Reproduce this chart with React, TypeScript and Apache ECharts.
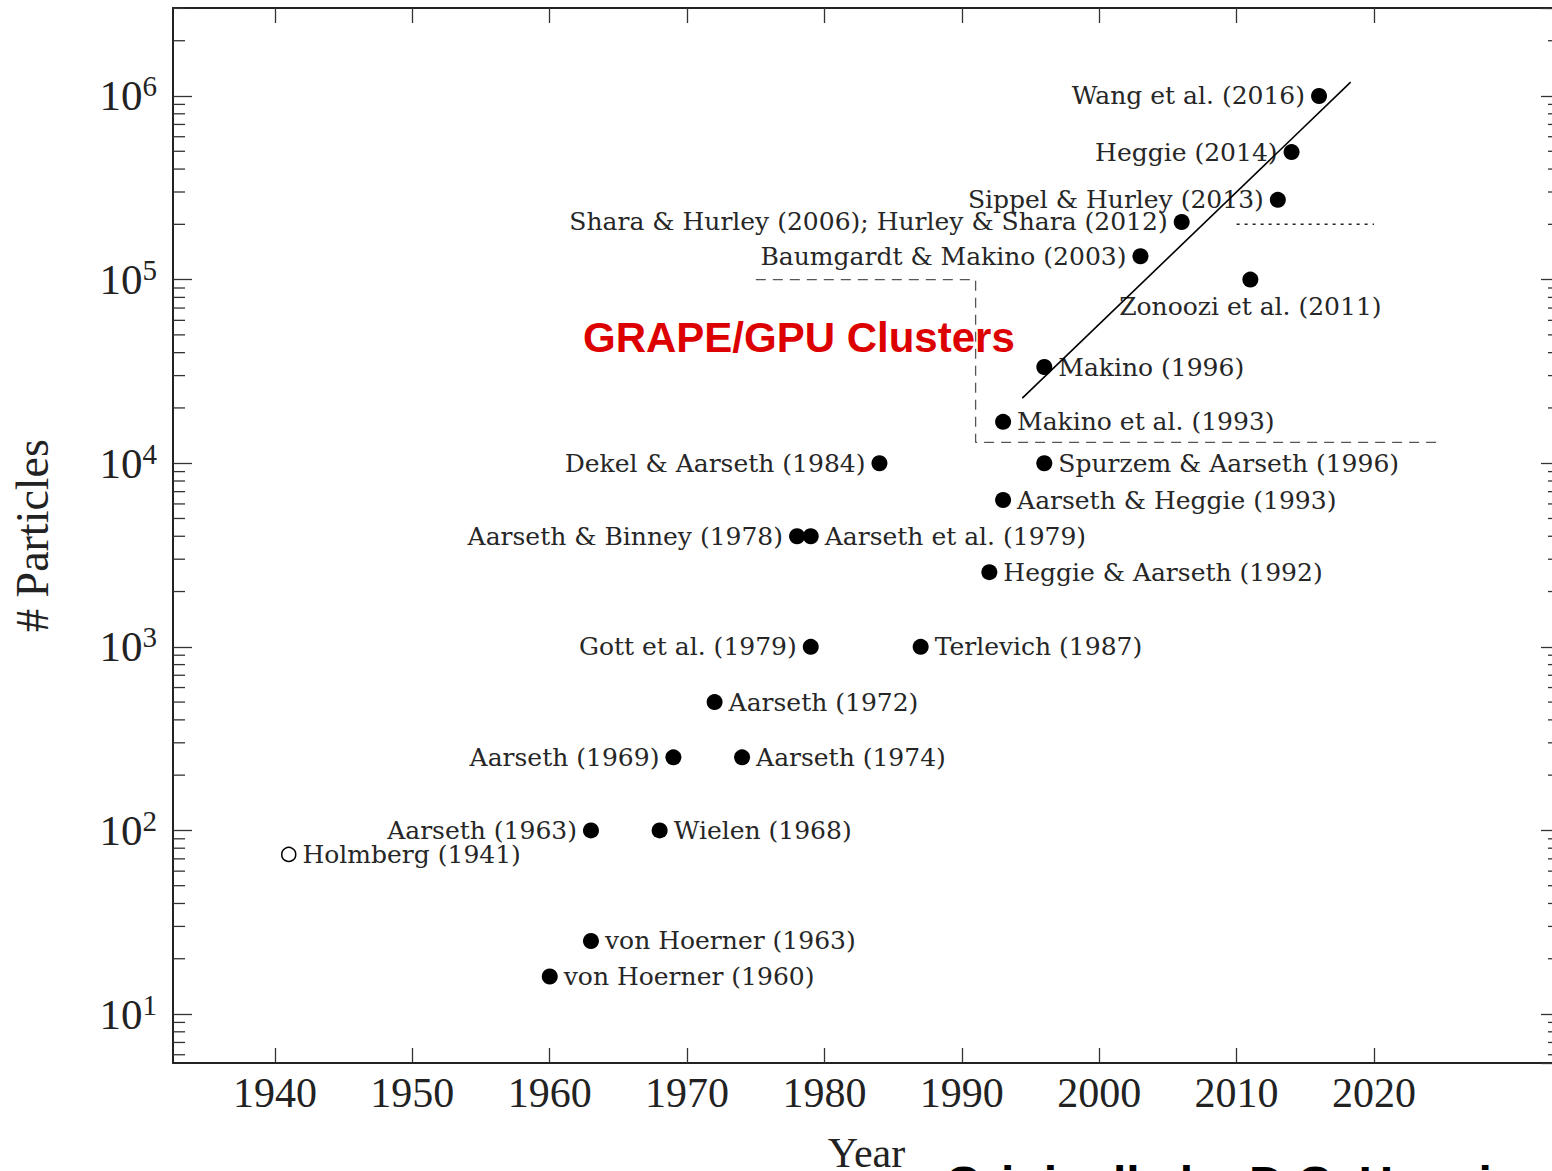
import React, { useEffect, useRef } from 'react';
import * as echarts from 'echarts';

// ---- data ----
const STUDIES = [
  'Holmberg (1941)',
  'von Hoerner (1960)',
  'von Hoerner (1963)',
  'Aarseth (1963)',
  'Wielen (1968)',
  'Aarseth (1969)',
  'Aarseth (1972)',
  'Aarseth (1974)',
  'Aarseth & Binney (1978)',
  'Aarseth et al. (1979)',
  'Gott et al. (1979)',
  'Dekel & Aarseth (1984)',
  'Terlevich (1987)',
  'Heggie & Aarseth (1992)',
  'Aarseth & Heggie (1993)',
  'Makino et al. (1993)',
  'Spurzem & Aarseth (1996)',
  'Makino (1996)',
  'Baumgardt & Makino (2003)',
  'Shara & Hurley (2006); Hurley & Shara (2012)',
  'Zonoozi et al. (2011)',
  'Sippel & Hurley (2013)',
  'Heggie (2014)',
  'Wang et al. (2016)',
];
const YEARS = [1941, 1960, 1963, 1963, 1968, 1969, 1972, 1974, 1978, 1979, 1979, 1984, 1987, 1992, 1993, 1993, 1996, 1996, 2003, 2006, 2011, 2013, 2014, 2016];
const PARTICLES = [74, 16, 25, 100, 100, 250, 500, 250, 4000, 4000, 1000, 10000, 1000, 2550, 6300, 16800, 10000, 33400, 134000, 206000, 100000, 272000, 495000, 1000000];
const LABEL_SIDE = ['right', 'right', 'right', 'left', 'right', 'left', 'right', 'right', 'left', 'right', 'left', 'left', 'right', 'right', 'right', 'right', 'right', 'right', 'left', 'left', 'bottom', 'left', 'left', 'left'];
const OPEN_MARKER = ['Holmberg (1941)'];

const YEAR_TICKS = [1940, 1950, 1960, 1970, 1980, 1990, 2000, 2010, 2020];
const X_RANGE = [1932.575, 2033.54];
const Y_RANGE = [5.41, 3.015e6];
const MINOR_MULTIPLIERS = [2, 3, 4, 5, 6, 7, 8, 9];
const DECADES = [1, 10, 100, 1000, 10000, 100000, 1000000];

const TREND_YEARS = [1994.4, 2018.3];
const TREND_PARTICLES = [22600, 1190000];
const GRAPE_YEARS = [1975, 1991, 1991, 2025];
const GRAPE_PARTICLES = [100000, 100000, 13000, 13000];
const DOTTED_YEARS = [2010, 2020];
const DOTTED_PARTICLES = [200000, 200000];

const SERIF = 'Liberation Serif';
const LABEL_SERIF = 'DejaVu Serif';

export default function App() {
  const ref = useRef<HTMLDivElement>(null);

  useEffect(() => {
    document.body.style.margin = '0';
    if (!ref.current) return;
    const chart = echarts.init(ref.current, undefined, { renderer: 'svg' });

    const minorTicks: number[][] = [];
    DECADES.forEach((d) =>
      MINOR_MULTIPLIERS.forEach((m) => {
        const v = d * m;
        if (v > Y_RANGE[0] && v < Y_RANGE[1]) minorTicks.push([X_RANGE[0], v]);
      })
    );

    const filled: any[] = [];
    const open: any[] = [];
    STUDIES.forEach((name, i) => {
      const item = {
        name,
        value: [YEARS[i], PARTICLES[i]],
        label: { position: LABEL_SIDE[i] },
      };
      if (OPEN_MARKER.includes(name)) open.push(item);
      else filled.push(item);
    });

    const pointLabel = {
      show: true,
      formatter: '{b}',
      fontFamily: LABEL_SERIF,
      fontSize: 25,
      color: '#262626',
      distance: 6,
    };

    const axisLineStyle = { lineStyle: { color: '#222', width: 2 } };
    const tickLineStyle = { color: '#333', width: 1.3 };

    const yAxisBase = {
      type: 'log',
      logBase: 10,
      min: Y_RANGE[0],
      max: Y_RANGE[1],
      splitLine: { show: false },
      minorTick: { show: false },
      axisLine: { show: true, ...axisLineStyle },
      axisTick: { show: true, inside: true, length: 19, lineStyle: tickLineStyle },
    };

    chart.setOption({
      animation: false,
      backgroundColor: '#fff',
      grid: {
        left: 173,
        top: 8,
        width: 1387,
        height: 1055,
        containLabel: false,
        outerBoundsMode: 'none',
      },
      xAxis: [
        {
          type: 'value',
          position: 'bottom',
          min: X_RANGE[0],
          max: X_RANGE[1],
          splitLine: { show: false },
          axisLine: { show: true, onZero: false, ...axisLineStyle },
          axisTick: { show: true, inside: true, length: 15, customValues: YEAR_TICKS, lineStyle: tickLineStyle },
          axisLabel: {
            customValues: YEAR_TICKS,
            fontFamily: SERIF,
            fontSize: 42,
            color: '#222',
            margin: 9,
            formatter: (v: number) => String(v),
          },
          name: 'Year',
          nameLocation: 'middle',
          nameGap: 69,
          nameTextStyle: { fontFamily: SERIF, fontSize: 42, color: '#222' },
        },
        {
          type: 'value',
          position: 'top',
          min: X_RANGE[0],
          max: X_RANGE[1],
          splitLine: { show: false },
          axisLine: { show: true, onZero: false, ...axisLineStyle },
          axisTick: { show: true, inside: true, length: 15, customValues: YEAR_TICKS, lineStyle: tickLineStyle },
          axisLabel: { show: false },
        },
      ],
      yAxis: [
        {
          ...yAxisBase,
          position: 'left',
          axisLabel: {
            showMinLabel: false,
            showMaxLabel: false,
            margin: 16,
            formatter: (v: number) => `{b|10}{s|${Math.round(Math.log10(v))}}`,
            rich: {
              b: { fontFamily: SERIF, fontSize: 43, color: '#222', lineHeight: 48 },
              s: { fontFamily: SERIF, fontSize: 29, color: '#222', lineHeight: 29, verticalAlign: 'top' },
            },
          },
          name: '# Particles',
          nameLocation: 'middle',
          nameGap: 118,
          nameTextStyle: { fontFamily: SERIF, fontSize: 46, color: '#222' },
        },
        {
          ...yAxisBase,
          position: 'right',
          axisLabel: { show: false },
        },
      ],
      series: [
        {
          type: 'custom',
          name: 'minor ticks',
          silent: true,
          xAxisIndex: 0,
          yAxisIndex: 0,
          data: minorTicks,
          renderItem: (params: any, api: any) => {
            const y = api.coord([api.value(0), api.value(1)])[1];
            const cs = params.coordSys;
            return {
              type: 'group',
              children: [
                { type: 'line', shape: { x1: cs.x, y1: y, x2: cs.x + 12, y2: y }, style: { stroke: '#333', lineWidth: 1.3 } },
                { type: 'line', shape: { x1: cs.x + cs.width - 12, y1: y, x2: cs.x + cs.width, y2: y }, style: { stroke: '#333', lineWidth: 1.3 } },
              ],
            };
          },
          z: 1,
        },
        {
          type: 'line',
          name: 'GRAPE region',
          xAxisIndex: 0,
          yAxisIndex: 0,
          symbol: 'none',
          silent: true,
          data: GRAPE_YEARS.map((x, i) => [x, GRAPE_PARTICLES[i]]),
          lineStyle: { color: '#555', width: 1.3, type: [10, 7] },
          z: 2,
        },
        {
          type: 'line',
          name: 'dotted',
          xAxisIndex: 0,
          yAxisIndex: 0,
          symbol: 'none',
          silent: true,
          data: DOTTED_YEARS.map((x, i) => [x, DOTTED_PARTICLES[i]]),
          lineStyle: { color: '#222', width: 1.5, type: [3, 5] },
          z: 2,
        },
        {
          type: 'scatter',
          name: 'simulations',
          xAxisIndex: 0,
          yAxisIndex: 0,
          symbol: 'circle',
          symbolSize: 16,
          itemStyle: { color: '#000', opacity: 1 },
          label: pointLabel,
          data: filled,
          z: 3,
        },
        {
          type: 'scatter',
          name: 'experiment',
          xAxisIndex: 0,
          yAxisIndex: 0,
          symbol: 'circle',
          symbolSize: 14,
          itemStyle: { color: '#fff', borderColor: '#000', borderWidth: 1.5, opacity: 1 },
          label: pointLabel,
          data: open,
          z: 3,
        },
        {
          type: 'line',
          name: 'trend',
          xAxisIndex: 0,
          yAxisIndex: 0,
          symbol: 'none',
          silent: true,
          data: TREND_YEARS.map((x, i) => [x, TREND_PARTICLES[i]]),
          lineStyle: { color: '#000', width: 1.6 },
          z: 4,
        },
      ],
      graphic: [
        {
          type: 'text',
          x: 583,
          y: 337,
          z: 10,
          style: {
            text: 'GRAPE/GPU Clusters',
            fontFamily: 'Liberation Sans',
            fontWeight: 'bold',
            fontSize: 42,
            fill: '#dd0000',
            align: 'left',
            verticalAlign: 'middle',
          },
        },
        {
          type: 'text',
          x: 945,
          y: 1183,
          z: 10,
          style: {
            text: 'Originally by D.C. Heggie',
            fontFamily: 'Liberation Sans',
            fontWeight: 'bold',
            fontSize: 48,
            fill: '#000',
            align: 'left',
            verticalAlign: 'middle',
          },
        },
      ],
    });

    return () => chart.dispose();
  }, []);

  return <div ref={ref} style={{ width: 1552, height: 1171 }} />;
}
